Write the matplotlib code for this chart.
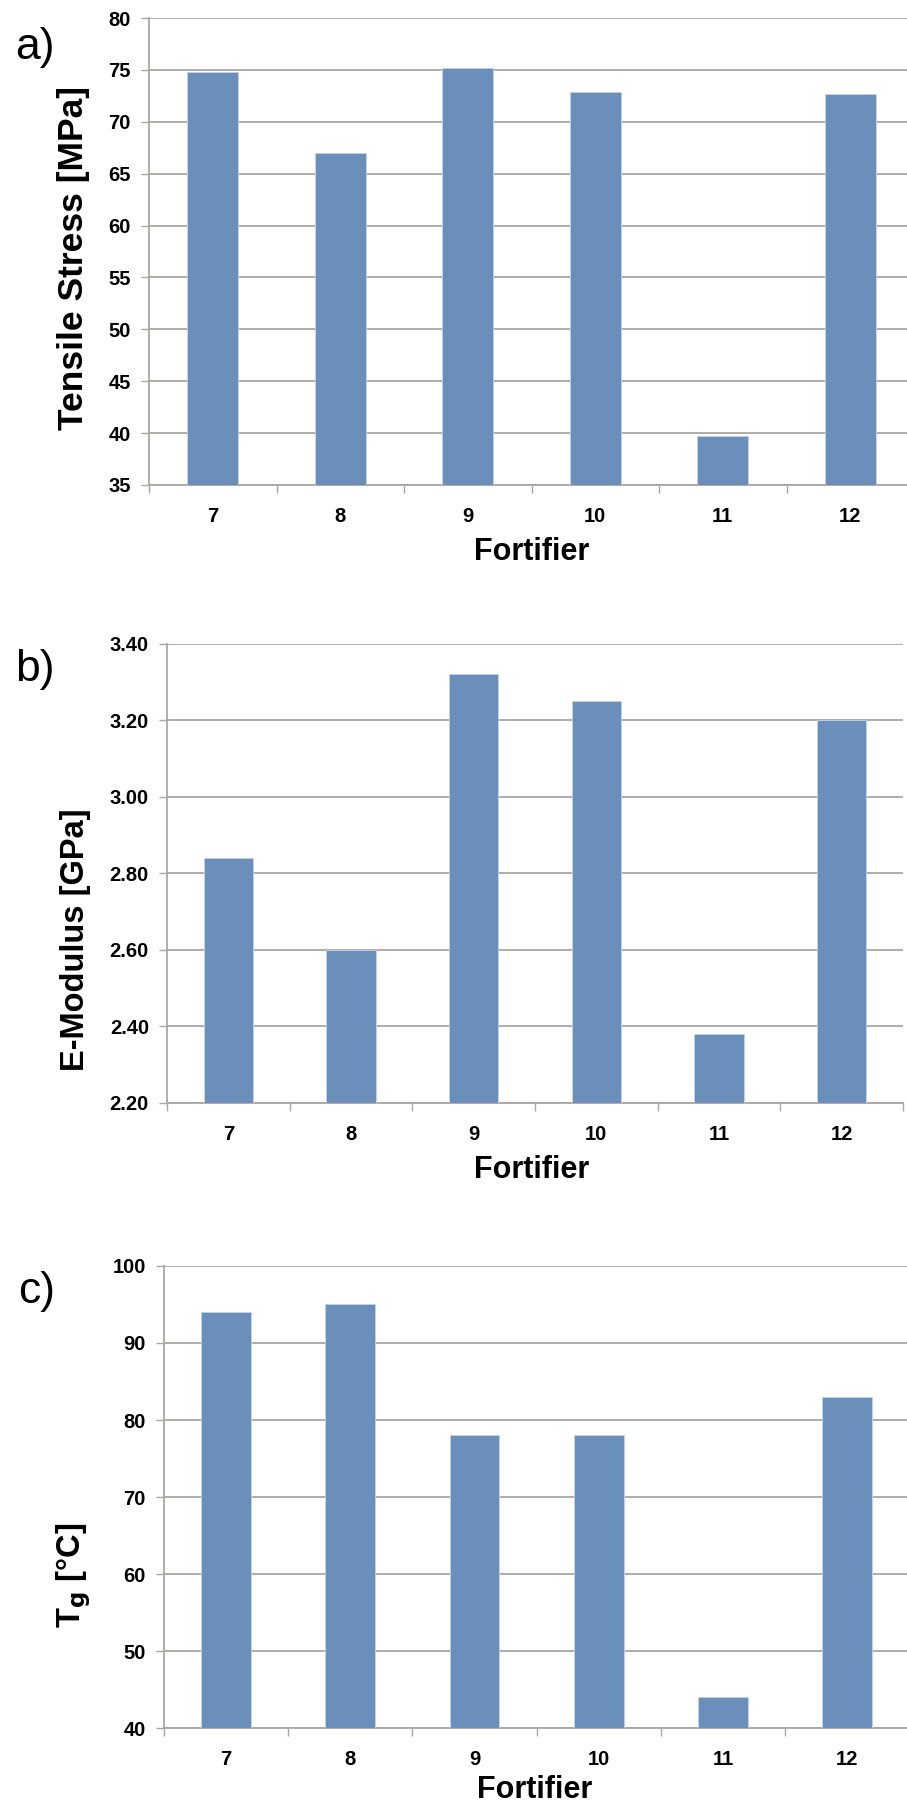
import matplotlib
matplotlib.use("Agg")
from matplotlib import pyplot as plt
from matplotlib.ticker import FixedLocator

# data
fortifier = ['7', '8', '9', '10', '11', '12']
tensile_stress = [74.8, 67.0, 75.2, 72.9, 39.7, 72.7]   # MPa
e_modulus = [2.84, 2.60, 3.32, 3.25, 2.38, 3.20]        # GPa
tg = [94, 95, 78, 78, 44, 83]                           # deg C

bar_color = '#6b8fbb'
grid_color = '#aaa6a6'
plt.rcParams['font.family'] = ['Liberation Sans', 'DejaVu Sans']
tick_font = ['Liberation Sans Narrow', 'Liberation Sans', 'DejaVu Sans']

fig = plt.figure(figsize=(9.07, 18.07), dpi=100)


def panel(rect, values, ylim, yticks, yfmt, xmax):
    ax = fig.add_axes(rect)
    x = range(len(fortifier))
    ax.bar(x, [v - ylim[0] for v in values], bottom=ylim[0], width=0.4,
           color=bar_color, edgecolor='#c5d3e6', linewidth=0.6, zorder=3)
    ax.set_xlim(-0.5, xmax)
    ax.set_ylim(*ylim)
    ax.set_yticks(yticks)
    ax.set_yticklabels([yfmt.format(t) for t in yticks], fontsize=14.5,
                       fontweight='bold', family=tick_font)
    ax.set_xticks(list(x))
    ax.set_xticklabels(fortifier, fontsize=14.5, fontweight='bold', family=tick_font)
    ax.xaxis.set_minor_locator(FixedLocator([i - 0.5 for i in range(len(fortifier) + 1)]))
    ax.tick_params(axis='x', which='major', length=0, pad=16)
    ax.tick_params(axis='x', which='minor', length=6, width=1, color=grid_color, direction='out')
    ax.tick_params(axis='y', length=6, width=1, color=grid_color, pad=7)
    ax.yaxis.grid(True, color=grid_color, linewidth=1.3, zorder=0)
    ax.set_axisbelow(True)
    for s in ['top', 'right']:
        ax.spines[s].set_visible(False)
    for s in ['left', 'bottom']:
        ax.spines[s].set_color(grid_color)
        ax.spines[s].set_linewidth(1.3)
    return ax


ax_a = panel([0.1643, 0.7316, 0.8357, 0.2584], tensile_stress, (35, 80),
             list(range(35, 81, 5)), '{:d}', 5.445)
ax_b = panel([0.1841, 0.3896, 0.8115, 0.2542], e_modulus, (2.2, 3.4),
             [2.2, 2.4, 2.6, 2.8, 3.0, 3.2, 3.4], '{:.2f}', 5.5)
ax_c = panel([0.1805, 0.0437, 0.8195, 0.2557], tg, (40, 100),
             list(range(40, 101, 10)), '{:d}', 5.48)

H = 1807.0
W = 907.0


def fy(y):
    return 1 - y / H


# panel letters
fig.text(35 / W, fy(47), 'a)', fontsize=32, ha='center', va='center')
fig.text(35 / W, fy(670), 'b)', fontsize=32, ha='center', va='center')
fig.text(37 / W, fy(1292), 'c)', fontsize=32, ha='center', va='center')

# y labels
fig.text(74 / W, fy(258), 'Tensile Stress [MPa]', fontsize=25.5, fontweight='bold',
         rotation=90, ha='center', va='center')
fig.text(76 / W, fy(940), 'E-Modulus [GPa]', fontsize=23.5, fontweight='bold',
         rotation=90, ha='center', va='center')
fig.text(74 / W, fy(1575), r'T$_\mathbf{g}$ [°C]', fontsize=23.5, fontweight='bold',
         rotation=90, ha='center', va='center')

# x labels
fig.text(532 / W, fy(552), 'Fortifier', fontsize=22, fontweight='bold', ha='center', va='center')
fig.text(532 / W, fy(1170), 'Fortifier', fontsize=22, fontweight='bold', ha='center', va='center')
fig.text(535 / W, fy(1790), 'Fortifier', fontsize=22, fontweight='bold', ha='center', va='center')

fig.savefig('out.png', dpi=100)
